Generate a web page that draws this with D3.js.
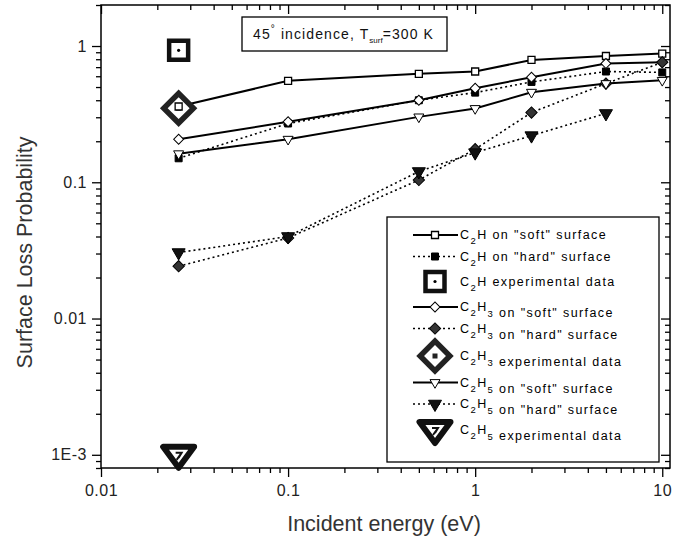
<!DOCTYPE html>
<html>
<head>
<meta charset="utf-8">
<script src="https://cdn.jsdelivr.net/npm/d3@7"></script>
<style>
body{margin:0;background:#fff;}
svg{display:block;font-family:"Liberation Sans",Arial,sans-serif;}
</style>
</head>
<body>
<svg id="chart"></svg>
<script>
// incident energies (eV)
var energy=[0.026,0.1,0.5,1,2,5,10];
var energyC2H5Hard=[0.026,0.1,0.5,1,2,5];

// surface loss probabilities
var c2hSoft=[0.36,0.555,0.625,0.65,0.79,0.845,0.88];
var c2hHard=[0.15,0.27,0.40,0.455,0.545,0.65,0.64];
var c2h3Soft=[0.207,0.278,0.40,0.49,0.59,0.745,0.76];
var c2h3Hard=[0.0242,0.039,0.104,0.175,0.325,0.53,0.76];
var c2h5Soft=[0.162,0.207,0.302,0.348,0.458,0.53,0.56];
var c2h5Hard=[0.0305,0.040,0.12,0.165,0.22,0.32];

// experimental data
var expNames=["C2H","C2H3","C2H5"];
var expEnergy=[0.026,0.026,0.026];
var expValue=[0.93,0.35,0.001];

var xTickValues=[0.01,0.1,1,10];
var xTickLabels=["0.01","0.1","1","10"];
var yTickValues=[0.001,0.01,0.1,1];
var yTickLabels=["1E-3","0.01","0.1","1"];

var svgWidth=680,svgHeight=542;
var margin={top:5,right:10,bottom:74,left:101};
var width=svgWidth-margin.left-margin.right;
var height=svgHeight-margin.top-margin.bottom;

var svg=d3.select('#chart')
    .attr('width',svgWidth)
    .attr('height',svgHeight);

var g=svg.append('g')
    .attr('transform','translate('+margin.left+','+margin.top+')');

var x=d3.scaleLog().domain([0.01,11]).range([0,width]);
var y=d3.scaleLog().domain([8e-4,2]).range([height,0]);

// minor ticks: 2..9 of each decade
var xMinor=x.ticks().filter(function(d){return xTickValues.indexOf(d)<0;});
var yMinor=y.ticks().filter(function(d){return yTickValues.indexOf(d)<0;});

function styleAxis(sel){
    sel.select('.domain').remove();
    sel.selectAll('line').attr('stroke','#000').attr('stroke-width',1.3);
    sel.selectAll('text').attr('fill','#222').style('font-size','16px').style('letter-spacing','0.5px');
}

// bottom axis (ticks out)
g.append('g').attr('transform','translate(0,'+height+')')
    .call(d3.axisBottom(x).tickValues(xTickValues).tickSize(9).tickPadding(8)
        .tickFormat(function(d,i){return xTickLabels[i];}))
    .call(styleAxis);
g.append('g').attr('transform','translate(0,'+height+')')
    .call(d3.axisBottom(x).tickValues(xMinor).tickSize(5).tickFormat(''))
    .call(styleAxis);
// top axis (ticks in)
g.append('g')
    .call(d3.axisBottom(x).tickValues(xTickValues).tickSize(9).tickFormat(''))
    .call(styleAxis);
g.append('g')
    .call(d3.axisBottom(x).tickValues(xMinor).tickSize(5).tickFormat(''))
    .call(styleAxis);
// left axis (ticks out)
g.append('g')
    .call(d3.axisLeft(y).tickValues(yTickValues).tickSize(9).tickPadding(5)
        .tickFormat(function(d,i){return yTickLabels[i];}))
    .call(styleAxis);
g.append('g')
    .call(d3.axisLeft(y).tickValues(yMinor).tickSize(5).tickFormat(''))
    .call(styleAxis);
// right axis (ticks in)
g.append('g').attr('transform','translate('+width+',0)')
    .call(d3.axisLeft(y).tickValues(yTickValues).tickSize(9).tickFormat(''))
    .call(styleAxis);
g.append('g').attr('transform','translate('+width+',0)')
    .call(d3.axisLeft(y).tickValues(yMinor).tickSize(5).tickFormat(''))
    .call(styleAxis);

g.append('rect')
    .attr('width',width).attr('height',height)
    .attr('fill','none').attr('stroke','#000').attr('stroke-width',1.5);

// axis titles
svg.append('text')
    .attr('x',384).attr('y',531)
    .attr('text-anchor','middle')
    .attr('fill','#333').style('font-size','21.5px')
    .text('Incident energy (eV)');
svg.append('text')
    .attr('transform','translate(32,'+(margin.top+height/2+16)+') rotate(-90)')
    .attr('text-anchor','middle')
    .attr('fill','#333').style('font-size','21.5px')
    .text('Surface Loss Probability');

// marker shapes
function markerPath(shape,s){
    if(shape==='square') return d3.symbol().type(d3.symbolSquare).size(s*s)();
    if(shape==='diamond') return d3.symbol().type(d3.symbolSquare).size(s*s)();
    return d3.symbol().type(d3.symbolTriangle).size(s*s*Math.sqrt(3)/4)();
}
function markerRotate(shape){
    if(shape==='diamond') return ' rotate(45)';
    if(shape==='triangle') return ' rotate(180)';
    return '';
}
// flattened downward triangle used for the experimental C2H5 point
function flatTriangle(w,h){
    var p=d3.path();
    p.moveTo(-w/2,-h*0.38);
    p.lineTo(w/2,-h*0.38);
    p.lineTo(0,h*0.62);
    p.closePath();
    return p.toString();
}

var series=[
    {name:'C2H',label:' on "soft" surface',xs:energy,ys:c2hSoft,dash:null,shape:'square',fill:'#fff',size:7,sw:1.3},
    {name:'C2H',label:' on "hard" surface',xs:energy,ys:c2hHard,dash:'2,3',shape:'square',fill:'#000',size:7,sw:1},
    {name:'C2H3',label:' on "soft" surface',xs:energy,ys:c2h3Soft,dash:null,shape:'diamond',fill:'#fff',size:7,sw:1},
    {name:'C2H3',label:' on "hard" surface',xs:energy,ys:c2h3Hard,dash:'2,3',shape:'diamond',fill:'#333',size:8,sw:1},
    {name:'C2H5',label:' on "soft" surface',xs:energy,ys:c2h5Soft,dash:null,shape:'triangle',fill:'#fff',size:10,sw:1},
    {name:'C2H5',label:' on "hard" surface',xs:energyC2H5Hard,ys:c2h5Hard,dash:'2,3',shape:'triangle',fill:'#111',size:13,sw:1}
];

var line=d3.line()
    .x(function(d){return x(d[0]);})
    .y(function(d){return y(d[1]);});

series.forEach(function(s){
    s.points=s.xs.map(function(v,i){return [v,s.ys[i]];});
    g.append('path')
        .datum(s.points)
        .attr('fill','none')
        .attr('stroke','#000')
        .attr('stroke-width',s.dash?1.6:2)
        .attr('stroke-dasharray',s.dash)
        .attr('d',line);
});

// experimental markers
function drawExp(sel,i,cx,cy){
    var gg=sel.append('g').attr('transform','translate('+cx+','+cy+')');
    if(i===0){
        gg.append('path').attr('d',markerPath('square',19))
            .attr('fill','#fff').attr('stroke','#111').attr('stroke-width',4.5);
        gg.append('circle').attr('r',1.6).attr('fill','#000');
    } else if(i===1){
        gg.append('path').attr('d',markerPath('diamond',21)).attr('transform','rotate(45)')
            .attr('fill','#fff').attr('stroke','#222').attr('stroke-width',5.5);
        gg.append('rect').attr('x',-2.5).attr('y',-2.5).attr('width',5).attr('height',5).attr('fill','#222');
    } else {
        gg.append('path').attr('d',flatTriangle(31,21))
            .attr('fill','#fff').attr('stroke','#111').attr('stroke-width',6)
            .attr('stroke-linejoin','round');
        gg.append('path').attr('d','M-3,-2 L3,-2 L0,3 M3,-2 L-2,5')
            .attr('fill','none').attr('stroke','#111').attr('stroke-width',2);
    }
}
expValue.forEach(function(v,i){
    drawExp(g,i,x(expEnergy[i]),y(v));
});

// data markers
series.forEach(function(s){
    g.selectAll(null)
        .data(s.points)
        .enter()
        .append('path')
        .attr('d',markerPath(s.shape,s.size))
        .attr('transform',function(d){return 'translate('+x(d[0])+','+y(d[1])+')'+markerRotate(s.shape);})
        .attr('fill',s.fill)
        .attr('stroke','#000')
        .attr('stroke-width',s.sw);
});

// annotation box
svg.append('rect')
    .attr('x',242).attr('y',17).attr('width',205).attr('height',34)
    .attr('fill','#fff').attr('stroke','#000').attr('stroke-width',1.3);
var ann=svg.append('text')
    .attr('x',253).attr('y',39)
    .attr('fill','#111').style('font-size','14px').style('letter-spacing','1.1px');
ann.append('tspan').text('45');
ann.append('tspan').attr('dy',-7).style('font-size','10px').text('°');
ann.append('tspan').attr('dy',7).text(' incidence, T');
ann.append('tspan').attr('dy',4).style('font-size','8px').style('letter-spacing','0px').text('surf');
ann.append('tspan').attr('dy',-4).text('=300 K');

// legend
var legendRows=[
    {kind:'series',idx:0,y:235},
    {kind:'series',idx:1,y:256.5},
    {kind:'exp',idx:0,y:281.5},
    {kind:'series',idx:2,y:307},
    {kind:'series',idx:3,y:328.5},
    {kind:'exp',idx:1,y:356},
    {kind:'series',idx:4,y:382.5},
    {kind:'series',idx:5,y:404},
    {kind:'exp',idx:2,y:430}
];
var legend=svg.append('g');
legend.append('rect')
    .attr('x',387).attr('y',217).attr('width',272).attr('height',245)
    .attr('fill','#fff').attr('stroke','#000').attr('stroke-width',1.3);

function writeName(t,name){
    // C2H, C2H3, C2H5 with subscripts
    t.append('tspan').text('C');
    t.append('tspan').attr('dy',5).style('font-size','9.5px').text('2');
    t.append('tspan').attr('dy',-5).text('H');
    if(name.length>3){
        t.append('tspan').attr('dy',6).style('font-size','9.5px').text(name.slice(3));
        t.append('tspan').attr('dy',-6).text('');
    }
}

legendRows.forEach(function(r){
    var lx=435;
    var t;
    if(r.kind==='series'){
        var s=series[r.idx];
        legend.append('line')
            .attr('x1',413).attr('x2',458).attr('y1',r.y).attr('y2',r.y)
            .attr('stroke','#000').attr('stroke-width',s.dash?1.3:2)
            .attr('stroke-dasharray',s.dash);
        legend.append('path')
            .attr('d',markerPath(s.shape,s.size))
            .attr('transform','translate('+lx+','+r.y+')'+markerRotate(s.shape))
            .attr('fill',s.fill).attr('stroke','#000').attr('stroke-width',s.sw);
        t=legend.append('text').attr('x',460).attr('y',r.y+4);
        writeName(t,s.name);
        t.append('tspan').text(s.label);
    } else {
        drawExp(legend,r.idx,lx,r.y);
        t=legend.append('text').attr('x',460).attr('y',r.y+4);
        writeName(t,expNames[r.idx]);
        t.append('tspan').text(' experimental data');
    }
    t.attr('fill','#000').style('font-size','12.5px').style('letter-spacing','1.4px');
});
</script>
</body>
</html>
